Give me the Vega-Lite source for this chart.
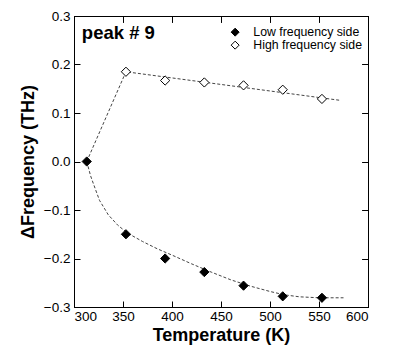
{
  "$schema": "https://vega.github.io/schema/vega-lite/v6.json",
  "width": 294,
  "height": 291,
  "autosize": "none",
  "padding": {"left": 74, "top": 16, "right": 36, "bottom": 53},
  "background": "white",
  "config": {
    "font": "Liberation Sans",
    "view": {"stroke": "black", "strokeWidth": 1},
    "axis": {
      "grid": false,
      "domainColor": "black",
      "tickColor": "black",
      "tickSize": -6,
      "labelColor": "black",
      "labelFontSize": 13.5,
      "titleColor": "black",
      "titleFontSize": 18,
      "titleFontWeight": "bold"
    },
    "axisTop": {"labels": false, "titleOpacity": 0, "titleFontSize": 1, "titlePadding": 0},
    "axisRight": {"labels": false, "titleOpacity": 0, "titleFontSize": 1, "titlePadding": 0}
  },
  "datasets": {
    "points": [
      {"T": 313, "dF": 0.0, "series": "Low frequency side"},
      {"T": 353, "dF": -0.15, "series": "Low frequency side"},
      {"T": 393, "dF": -0.2, "series": "Low frequency side"},
      {"T": 433, "dF": -0.228, "series": "Low frequency side"},
      {"T": 473, "dF": -0.256, "series": "Low frequency side"},
      {"T": 513, "dF": -0.278, "series": "Low frequency side"},
      {"T": 553, "dF": -0.281, "series": "Low frequency side"},
      {"T": 353, "dF": 0.185, "series": "High frequency side"},
      {"T": 393, "dF": 0.167, "series": "High frequency side"},
      {"T": 433, "dF": 0.163, "series": "High frequency side"},
      {"T": 473, "dF": 0.157, "series": "High frequency side"},
      {"T": 513, "dF": 0.148, "series": "High frequency side"},
      {"T": 553, "dF": 0.129, "series": "High frequency side"}
    ],
    "lowfit": [
      {"T": 313, "dF": 0.0},
      {"T": 317, "dF": -0.03},
      {"T": 320, "dF": -0.047},
      {"T": 326, "dF": -0.08},
      {"T": 335, "dF": -0.11},
      {"T": 345, "dF": -0.132},
      {"T": 355, "dF": -0.148},
      {"T": 370, "dF": -0.165},
      {"T": 385, "dF": -0.18},
      {"T": 400, "dF": -0.193},
      {"T": 420, "dF": -0.211},
      {"T": 440, "dF": -0.228},
      {"T": 460, "dF": -0.244},
      {"T": 480, "dF": -0.257},
      {"T": 500, "dF": -0.268},
      {"T": 515, "dF": -0.275},
      {"T": 530, "dF": -0.279},
      {"T": 550, "dF": -0.281},
      {"T": 575, "dF": -0.281}
    ],
    "highfit": [
      {"T": 313, "dF": 0.0},
      {"T": 353, "dF": 0.185},
      {"T": 572, "dF": 0.126}
    ],
    "label": [{"name": "peak # 9"}]
  },
  "layer": [
    {
      "data": {"name": "lowfit"},
      "mark": {"type": "line", "color": "#444", "strokeWidth": 1, "strokeDash": [3, 2]},
      "encoding": {
        "x": {"field": "T", "type": "quantitative", "scale": {"domain": [300, 600], "nice": false},
          "axis": {"orient": "bottom", "values": [300, 350, 400, 450, 500, 550, 600], "title": "Temperature (K)", "labelPadding": 8, "titlePadding": 4}},
        "y": {"field": "dF", "type": "quantitative", "scale": {"domain": [-0.3, 0.3], "nice": false, "zero": false},
          "axis": {"orient": "left", "values": [-0.3, -0.2, -0.1, 0, 0.1, 0.2, 0.3], "format": ".1f", "title": "ΔFrequency (THz)", "labelPadding": 10, "titlePadding": 6}}
      }
    },
    {
      "data": {"name": "highfit"},
      "mark": {"type": "line", "color": "#444", "strokeWidth": 1, "strokeDash": [3, 2]},
      "encoding": {
        "x": {"field": "T", "type": "quantitative"},
        "y": {"field": "dF", "type": "quantitative"}
      }
    },
    {
      "data": {"name": "points"},
      "mark": {"type": "point", "shape": "diamond", "filled": true, "stroke": "black", "strokeWidth": 1, "size": 85, "opacity": 1},
      "encoding": {
        "x": {"field": "T", "type": "quantitative"},
        "y": {"field": "dF", "type": "quantitative"},
        "fill": {"field": "series", "type": "nominal",
          "scale": {"domain": ["Low frequency side", "High frequency side"], "range": ["black", "white"]},
          "legend": {"title": null, "orient": "none", "legendX": 155, "legendY": 10, "symbolType": "diamond", "symbolSize": 64, "symbolStrokeColor": "black", "symbolStrokeWidth": 1, "symbolOpacity": 1, "labelFontSize": 12.3, "labelColor": "black", "labelOffset": 12, "rowPadding": 0}}
      }
    },
    {
      "data": {"name": "points"},
      "mark": {"type": "point", "opacity": 0},
      "encoding": {
        "x": {"field": "T", "type": "quantitative", "axis": {"orient": "top", "labels": false, "title": null, "values": [300, 350, 400, 450, 500, 550, 600]}},
        "y": {"field": "dF", "type": "quantitative", "axis": {"orient": "right", "labels": false, "title": null, "values": [-0.3, -0.2, -0.1, 0, 0.1, 0.2, 0.3]}}
      }
    },
    {
      "data": {"name": "label"},
      "mark": {"type": "text", "font": "Liberation Sans", "fontSize": 18.5, "fontWeight": "bold", "align": "left", "baseline": "alphabetic", "color": "black"},
      "encoding": {
        "text": {"field": "name"},
        "x": {"datum": 308},
        "y": {"datum": 0.253}
      }
    }
  ]
}
